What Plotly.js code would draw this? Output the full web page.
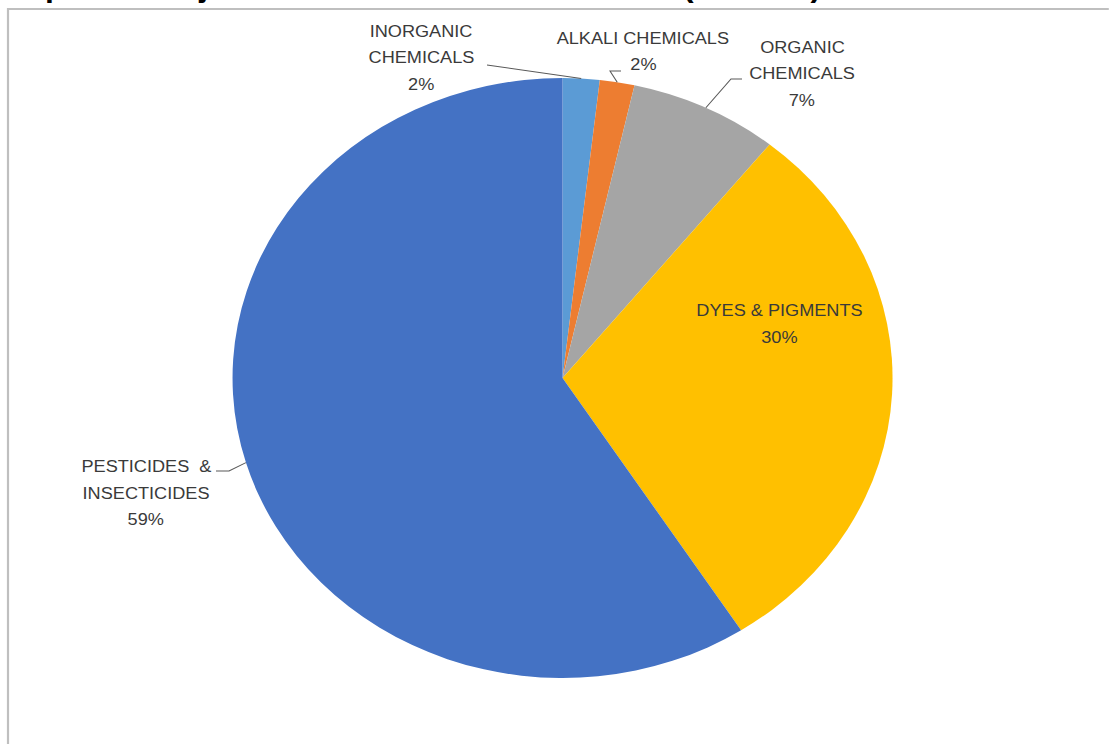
<!DOCTYPE html>
<html>
<head>
<meta charset="utf-8">
<script src="https://cdn.plot.ly/plotly-3.0.1.min.js"></script>
<style>
  html, body { margin: 0; padding: 0; background: #ffffff; overflow: hidden; }
  #chart { width: 1008px; height: 744px; transform: scaleX(1.1); transform-origin: 0 0; }
</style>
</head>
<body>
<div id="chart"></div>
<script>
// ---- data ----
const titleText = 'Import of Major Chemicals in Rubber Sector (2018-19)';
const categories = ['INORGANIC CHEMICALS', 'ALKALI CHEMICALS', 'ORGANIC CHEMICALS', 'DYES & PIGMENTS', 'PESTICIDES & INSECTICIDES'];
const values = [1.8, 1.7, 7.3, 30.1, 59.1];
const colors = ['#5B9BD5', '#ED7D31', '#A5A5A5', '#FFC000', '#4472C4'];
const labelLines = [['INORGANIC', 'CHEMICALS'], ['ALKALI CHEMICALS'], ['ORGANIC', 'CHEMICALS'], ['DYES & PIGMENTS'], ['PESTICIDES  &', 'INSECTICIDES']];

// ---- layout helpers ----
const W = 1008, H = 744, SX = 1.1;
const cx = 511.4, cy = 378, R = 300;
const px = xs => xs / SX / W;          // screen x (stretched) -> paper
const py = y => 1 - y / H;             // screen y -> paper
const ux = xu => xu / W;               // unstretched px -> paper

// label placement (screen px: centre x, first line centre y)
const labelPos = [[421, 31], [643, 38], [802, 47], [779, 310], [146, 466]];
const lineStep = 26.5;
// leader lines: start and elbow points (screen px), end computed on the pie edge
const leaders = [
  [[487, 65]],
  [[621, 71], [610, 71]],
  [[742, 79], [731, 79]],
  null,
  [[216, 471], [229, 471]]
];

const total = values.reduce((a, b) => a + b, 0);
function edgePoint(i) {
  let before = 0;
  for (let k = 0; k < i; k++) before += values[k];
  const frac = (before + values[i] / 2) / total;
  const th = frac * 2 * Math.PI;
  return [cx + R * Math.sin(th), cy - R * Math.cos(th)];
}

const annotations = [];
categories.forEach((c, i) => {
  const pct = Math.round(values[i] / total * 100) + '%';
  const lines = labelLines[i].concat([pct]);
  lines.forEach((t, j) => {
    annotations.push({
      text: t, showarrow: false, xref: 'paper', yref: 'paper',
      x: px(labelPos[i][0]), y: py(labelPos[i][1] + j * lineStep),
      xanchor: 'center', yanchor: 'middle',
      font: { family: 'Liberation Sans, Arial, sans-serif', size: 16.5, color: '#3a3a3a' }
    });
  });
});

annotations.push({
  text: '<b>' + titleText + '</b>', showarrow: false, xref: 'paper', yref: 'paper',
  x: ux(5), y: py(5), xanchor: 'left', yanchor: 'bottom',
  font: { family: 'Liberation Sans, Arial, sans-serif', size: 29, color: '#000000' }
});

const shapes = [{
  type: 'rect', xref: 'paper', yref: 'paper',
  x0: px(8), y0: py(9), x1: 1.02, y1: -0.05,
  line: { color: '#BFBFBF', width: 2 }, fillcolor: 'rgba(0,0,0,0)', layer: 'below'
}];
leaders.forEach((pts, i) => {
  if (!pts) return;
  const e = edgePoint(i);
  let d = '';
  pts.forEach((p, k) => { d += (k === 0 ? 'M ' : ' L ') + px(p[0]) + ',' + py(p[1]); });
  d += ' L ' + ux(e[0]) + ',' + py(e[1]);
  shapes.push({ type: 'path', xref: 'paper', yref: 'paper', path: d, line: { color: '#595959', width: 1 } });
});

const trace = {
  type: 'pie',
  labels: categories,
  values: values,
  sort: false,
  direction: 'clockwise',
  rotation: 0,
  textinfo: 'none',
  hoverinfo: 'skip',
  marker: { colors: colors, line: { width: 0 } },
  domain: { x: [(cx - R) / W, (cx + R) / W], y: [py(cy + R), py(cy - R)] }
};

const layout = {
  width: W, height: H,
  margin: { l: 0, r: 0, t: 0, b: 0 },
  paper_bgcolor: '#ffffff',
  showlegend: false,
  annotations: annotations,
  shapes: shapes
};

Plotly.newPlot('chart', [trace], layout, { staticPlot: true, displayModeBar: false });
</script>
</body>
</html>
